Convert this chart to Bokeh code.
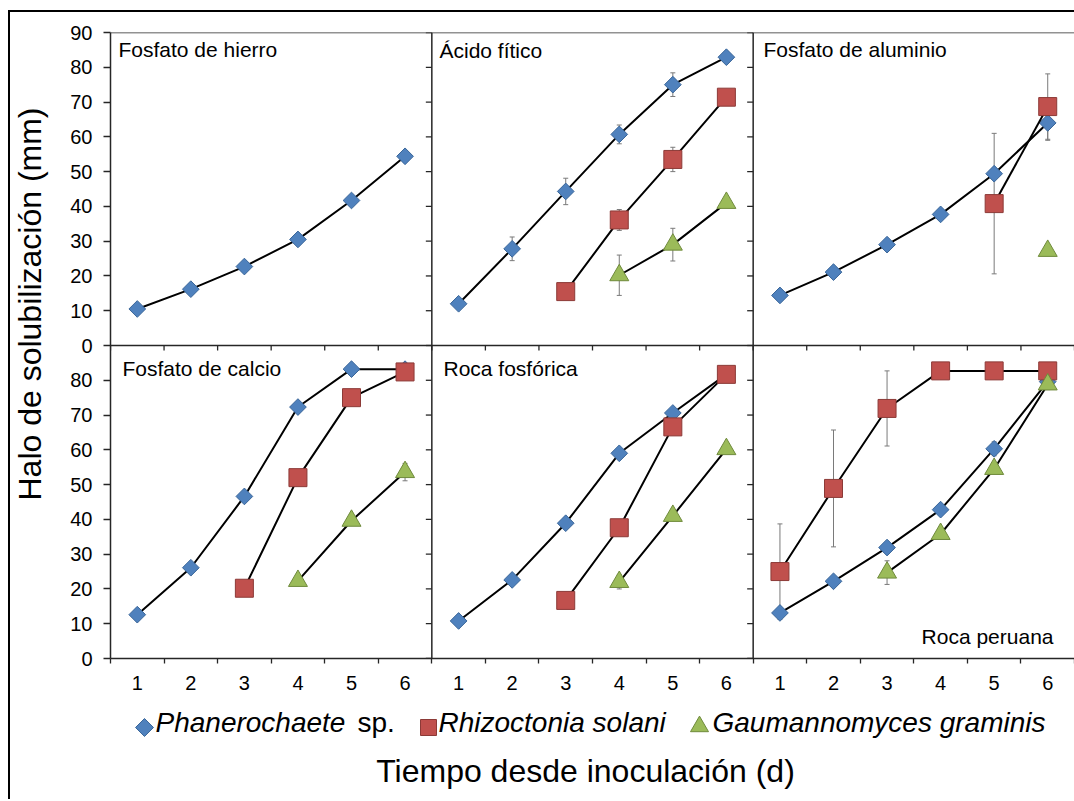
import math
from bokeh.plotting import figure
from bokeh.layouts import row, column
from bokeh.models import (Range1d, FixedTicker, Span, Label, Whisker, TeeHead,
                          ColumnDataSource, CustomJSTickFormatter)
from bokeh.embed import file_html
from bokeh.resources import INLINE

nan = float("nan")

# ---------------- data ----------------
days = [1, 2, 3, 4, 5, 6]
panel_titles = ["Fosfato de hierro", "Ácido fítico", "Fosfato de aluminio",
                "Fosfato de calcio", "Roca fosfórica", "Roca peruana"]
series_genus = ["Phanerochaete", "Rhizoctonia solani", "Gaumannomyces graminis"]
y_ticks = [0, 10, 20, 30, 40, 50, 60, 70, 80, 90]
y_title = "Halo de solubilización (mm)"
x_title = "Tiempo desde inoculación (d)"

# Phanerochaete sp.
phan_hierro = [10.5, 16.2, 22.7, 30.5, 41.7, 54.4]
phan_fitico = [12.0, 27.8, 44.3, 60.7, 75.0, 82.9]
phan_aluminio = [14.4, 21.1, 29.0, 37.7, 49.4, 64.0]
phan_calcio = [12.6, 26.1, 46.6, 72.3, 83.2, 83.2]
phan_rocafos = [10.8, 22.6, 38.9, 59.0, 70.6, 81.7]
phan_rocaper = [13.1, 22.2, 31.9, 42.8, 60.3, 79.6]
# Rhizoctonia solani
rhiz_hierro = [nan, nan, nan, nan, nan, nan]
rhiz_fitico = [nan, nan, 15.5, 36.1, 53.5, 71.4]
rhiz_aluminio = [nan, nan, nan, nan, 40.8, 68.7]
rhiz_calcio = [nan, nan, 20.2, 52.0, 75.0, 82.4]
rhiz_rocafos = [nan, nan, 16.7, 37.6, 66.6, 81.7]
rhiz_rocaper = [25.0, 48.9, 71.9, 82.7, 82.7, 82.7]
# Gaumannomyces graminis
gaum_hierro = [nan, nan, nan, nan, nan, nan]
gaum_fitico = [nan, nan, nan, 20.2, 29.0, 41.0]
gaum_aluminio = [nan, nan, nan, nan, nan, 27.2]
gaum_calcio = [nan, nan, nan, 22.3, 39.6, 53.6]
gaum_rocafos = [nan, nan, nan, 22.0, 41.0, 60.2]
gaum_rocaper = [nan, nan, 24.7, 35.8, 54.5, 78.8]

# error bars (0 = none visible)
ephan_hierro = [0, 0, 0, 0, 0, 0]
ephan_fitico = [0, 3.4, 3.8, 2.7, 3.4, 0]
ephan_aluminio = [0, 0, 0, 0, 0, 5.0]
ephan_calcio = [0, 0, 0, 0, 0, 0]
ephan_rocafos = [0, 0, 0, 0, 0, 0]
ephan_rocaper = [0, 0, 0, 0, 2.0, 0]
erhiz_hierro = [0, 0, 0, 0, 0, 0]
erhiz_fitico = [0, 0, 0, 3.0, 3.5, 0]
erhiz_aluminio = [0, 0, 0, 0, 20.2, 9.4]
erhiz_calcio = [0, 0, 0, 0, 0, 0]
erhiz_rocafos = [0, 0, 0, 0, 0, 0]
erhiz_rocaper = [13.7, 16.8, 10.8, 0, 0, 0]
egaum_hierro = [0, 0, 0, 0, 0, 0]
egaum_fitico = [0, 0, 0, 5.8, 4.7, 0]
egaum_aluminio = [0, 0, 0, 0, 0, 0]
egaum_calcio = [0, 0, 0, 0, 0, 2.5]
egaum_rocafos = [0, 0, 0, 2.0, 0, 0]
egaum_rocaper = [0, 0, 3.4, 0, 0, 1.5]

panels = [
    ([phan_hierro, rhiz_hierro, gaum_hierro], [ephan_hierro, erhiz_hierro, egaum_hierro]),
    ([phan_fitico, rhiz_fitico, gaum_fitico], [ephan_fitico, erhiz_fitico, egaum_fitico]),
    ([phan_aluminio, rhiz_aluminio, gaum_aluminio], [ephan_aluminio, erhiz_aluminio, egaum_aluminio]),
    ([phan_calcio, rhiz_calcio, gaum_calcio], [ephan_calcio, erhiz_calcio, egaum_calcio]),
    ([phan_rocafos, rhiz_rocafos, gaum_rocafos], [ephan_rocafos, erhiz_rocafos, egaum_rocafos]),
    ([phan_rocaper, rhiz_rocaper, gaum_rocaper], [ephan_rocaper, erhiz_rocaper, egaum_rocaper]),
]

# ---------------- styling / layout ----------------
FONT = "Liberation Sans"
AX = "#262626"
NCOL = 3
NDAY = len(days)
YMAX = 90
XMAX = NCOL * NDAY
YTOT = 2 * YMAX

# page geometry (px): content origin after margin + border
OX, OY = 10, 12
LEFT_W = 50                      # width of the strip holding the y title
FL, FT, FR, FB = 110, 32, 1074, 658
MAIN_H = 690
LEG_H = 97

COLORS = [("#4F81BD", "#3A6699"), ("#C0504D", "#8C3A37"), ("#9BBB59", "#6F8A3C")]


def X(px):
    return (px - FL) * XMAX / (FR - FL)


def Y(py):
    return (FB - py) * YTOT / (FB - FT)


def blank_fig(w, h, x0, x1, y0, y1):
    f = figure(width=w, height=h, output_backend="svg",
               toolbar_location=None, tools="", x_range=Range1d(x0, x1),
               y_range=Range1d(y1, y0), x_axis_location=None, y_axis_location=None,
               min_border=0)
    f.grid.visible = False
    f.outline_line_color = None
    f.background_fill_color = "white"
    f.border_fill_color = "white"
    return f


# ---- main figure ----
main_w = FR - (OX + LEFT_W)
p = figure(width=main_w, height=MAIN_H, output_backend="svg", toolbar_location=None,
           x_range=Range1d(0, XMAX), y_range=Range1d(0, YTOT), tools="",
           min_border_left=FL - (OX + LEFT_W), min_border_right=0,
           min_border_top=FT - OY, min_border_bottom=MAIN_H - (FB - FT) - (FT - OY))
p.grid.visible = False
p.outline_line_color = None
p.background_fill_color = "white"
p.border_fill_color = "white"

centres = [c * NDAY + d - 0.5 for c in range(NCOL) for d in days]
bounds = list(range(0, XMAX + 1))
xa = p.xaxis[0]
xa.ticker = FixedTicker(ticks=centres, minor_ticks=bounds)
xa.formatter = CustomJSTickFormatter(
    code="return String(Math.round(tick - 6*Math.floor(tick/6) + 0.5))")
xa.major_tick_out = 0
xa.major_tick_in = 0
xa.minor_tick_out = 5
xa.minor_tick_in = 0
xa.minor_tick_line_color = AX
xa.minor_tick_line_width = 1.3
xa.axis_line_color = AX
xa.axis_line_width = 1.5
xa.major_label_standoff = 12
xa.major_label_text_font = FONT
xa.major_label_text_font_size = "20px"
xa.major_label_text_color = "black"

yall = [t for t in y_ticks] + [t + YMAX for t in y_ticks[1:]]
ya = p.yaxis[0]
ya.ticker = FixedTicker(ticks=yall, minor_ticks=[])
ya.formatter = CustomJSTickFormatter(code="return String(tick >= 90 ? tick - 90 : tick)")
ya.major_tick_out = 7
ya.major_tick_in = 0
ya.major_tick_line_color = AX
ya.major_tick_line_width = 1.3
ya.minor_tick_out = 0
ya.minor_tick_in = 0
ya.axis_line_color = AX
ya.axis_line_width = 1.5
ya.major_label_standoff = 11
ya.major_label_text_font = FONT
ya.major_label_text_font_size = "20px"
ya.major_label_text_color = "black"

for c in range(1, NCOL):
    p.add_layout(Span(location=c * NDAY, dimension="height", line_color=AX, line_width=1.5))
p.add_layout(Span(location=YMAX, dimension="width", line_color=AX, line_width=1.5))
p.add_layout(Span(location=YTOT, dimension="width", line_color=AX, line_width=1.5))

rx, ry = [], []
for c in range(1, NCOL):
    for t in yall:
        rx.append(c * NDAY)
        ry.append(t)
p.ray(x=rx, y=ry, length=6, length_units="screen", angle=math.pi,
      line_color=AX, line_width=1.3)
p.ray(x=bounds, y=[YMAX] * len(bounds), length=5, length_units="screen",
      angle=-math.pi / 2, line_color=AX, line_width=1.3)

styles = [
    dict(marker="square", angle=math.pi / 4, size=11.8),
    dict(marker="square", angle=0, size=18),
    dict(marker="triangle", angle=0, size=19),
]

wx, wu, wl = [], [], []
for k, (series, errs) in enumerate(panels):
    col, rw = k % NCOL, k // NCOL
    yoff = YMAX if rw == 0 else 0
    xs = [col * NDAY + d - 0.5 for d in days]
    for s, (vals, ev) in enumerate(zip(series, errs)):
        ys = [v + yoff for v in vals]
        for x, v, e in zip(xs, ys, ev):
            if e and not math.isnan(v):
                wx.append(x)
                wu.append(v + e)
                wl.append(v - e)
        src = ColumnDataSource(dict(x=xs, y=ys))
        p.line("x", "y", source=src, line_color="black", line_width=2)
        st = styles[s]
        p.scatter("x", "y", source=src, marker=st["marker"], angle=st["angle"],
                  size=st["size"], fill_color=COLORS[s][0],
                  line_color=COLORS[s][1], line_width=1)

wsrc = ColumnDataSource(dict(base=wx, upper=wu, lower=wl))
p.add_layout(Whisker(source=wsrc, base="base", upper="upper", lower="lower",
                     line_color="#7A7A7A", line_width=1, level="underlay",
                     upper_head=TeeHead(size=5, line_color="#7A7A7A", line_width=1),
                     lower_head=TeeHead(size=5, line_color="#7A7A7A", line_width=1)))

# panel titles (anchor placed ~8px above the visual baseline: bokeh text box offset)
title_pos = [(118, 49, "left"), (439, 49.5, "left"), (763, 49, "left"),
             (122, 367.5, "left"), (443, 368, "left"), (1053, 635.5, "right")]
for t, (px, py, al) in zip(panel_titles, title_pos):
    p.add_layout(Label(x=X(px), y=Y(py), text=t, text_align=al,
                       text_baseline="alphabetic", text_font=FONT,
                       text_font_size="21px", text_color="black"))

# ---- left strip: y-axis title ----
total_h = MAIN_H + LEG_H
pl = blank_fig(LEFT_W, total_h, OX, OX + LEFT_W, OY, OY + total_h)
pl.add_layout(Label(x=29, y=303.5, text=y_title, angle=math.pi / 2,
                    text_align="center", text_baseline="alphabetic",
                    text_font=FONT, text_font_size="32px", text_color="black"))

# ---- bottom strip: legend and x-axis title (frame aligned with main frame) ----
pb = blank_fig(main_w, LEG_H, FL, FR, OY + MAIN_H, OY + MAIN_H + LEG_H)
key_src = ColumnDataSource(dict(
    x=[144, 428, 699], y=[727, 727, 726],
    marker=["square", "square", "triangle"], angle=[math.pi / 4, 0, 0],
    size=[12.7, 16, 18], fill=[c[0] for c in COLORS], line=[c[1] for c in COLORS]))
pb.scatter("x", "y", source=key_src, marker="marker", angle="angle", size="size",
           fill_color="fill", line_color="line", line_width=1)
leg_texts = [(155, series_genus[0], "italic"), (357, "sp.", "normal"),
             (438, series_genus[1], "italic"), (712, series_genus[2], "italic")]
for px, t, fst in leg_texts:
    pb.add_layout(Label(x=px, y=722, text=t, text_align="left",
                        text_baseline="alphabetic", text_font=FONT,
                        text_font_style=fst, text_font_size="28px", text_color="black"))
pb.add_layout(Label(x=585, y=770, text=x_title, text_align="center",
                    text_baseline="alphabetic", text_font=FONT,
                    text_font_size="32px", text_color="black"))

layout = row(pl, column(p, pb, spacing=0), spacing=0)
layout.margin = (OY - 2, 0, 0, OX - 2)
layout.styles = {"border-left": "2px solid black", "border-top": "2px solid black"}

open("out.html", "w").write(file_html(layout, INLINE))
